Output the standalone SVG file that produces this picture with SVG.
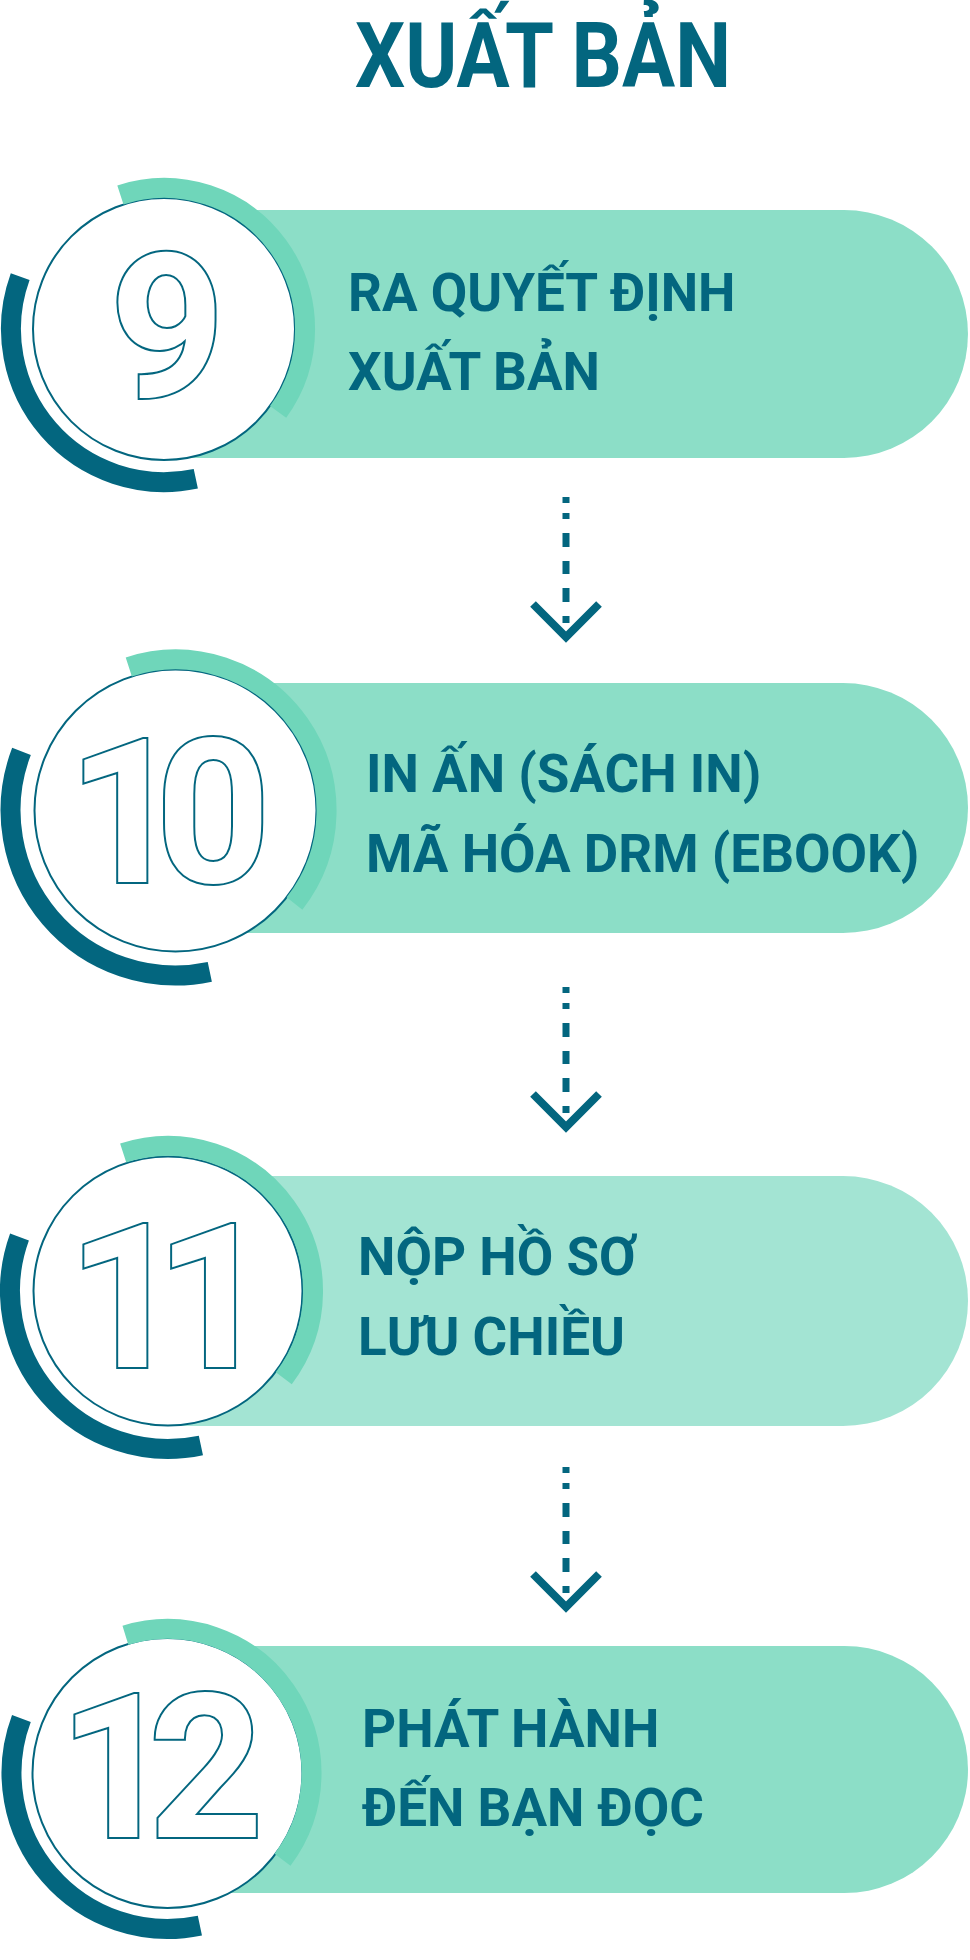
<svg xmlns="http://www.w3.org/2000/svg" width="970" height="1960" viewBox="0 0 970 1960">
<style>
.pill{fill:#8cdec7}
.pill-l{fill:#a3e4d3}
.disc{fill:#ffffff;stroke:#03667f;stroke-width:2}
.arc-l{fill:none;stroke:#6fd6ba;stroke-width:20}
.arc-d{fill:none;stroke:#03667f;stroke-width:20}
.num{font-family:Roboto,"Liberation Sans",sans-serif;font-weight:700;font-size:200px;fill:#ffffff;stroke:#03667f;stroke-width:4;paint-order:stroke;stroke-linejoin:miter}
.lbl{font-family:Roboto,"Liberation Sans",sans-serif;font-weight:700;font-size:53px;fill:#03667f}
.title{font-family:Roboto,"Liberation Sans",sans-serif;font-weight:700;font-size:91px;fill:#03667f}
.dash{fill:none;stroke:#03667f;stroke-width:7}
.chev{fill:none;stroke:#03667f;stroke-width:8;stroke-linejoin:miter}
</style>
<rect width="970" height="1960" fill="#ffffff"/>
<text class="title" x="355" y="87" textLength="376" lengthAdjust="spacingAndGlyphs">XUẤT BẢN</text>

<g id="node9">
<path class="pill" d="M150 210 H844 A124 124 0 0 1 844 458 H150 Z"/>
<circle class="disc" cx="164" cy="329" r="131"/>
<path class="arc-l" d="M120.4 194.9 A141 141 0 0 1 278.1 411.9"/>
<path class="arc-d" d="M195.8 478.7 A153 153 0 0 1 20.2 276.7"/>
<text class="num" x="110" y="397">9</text>
<text class="lbl" x="348" y="311">RA QUYẾT ĐỊNH</text>
<text class="lbl" x="348" y="390">XUẤT BẢN</text>
</g>

<g id="node10">
<path class="pill" d="M160 683 H843 A125 125 0 0 1 843 933 H160 Z"/>
<circle class="disc" cx="175.5" cy="810.5" r="141"/>
<path class="arc-l" d="M128.8 666.9 A151 151 0 0 1 294.5 903.5"/>
<path class="arc-d" d="M209.8 971.9 A165 165 0 0 1 21.5 751.4"/>
<text class="num" x="68" y="882" style="letter-spacing:-27px">10</text>
<text class="lbl" x="366" y="792">IN ẤN (SÁCH IN)</text>
<text class="lbl" x="366" y="872">MÃ HÓA DRM (EBOOK)</text>
</g>

<g id="node11">
<path class="pill-l" d="M150 1176 H843 A125 125 0 0 1 843 1426 H150 Z"/>
<circle class="disc" cx="168" cy="1291" r="134.5"/>
<path class="arc-l" d="M123.2 1153.1 A145 145 0 0 1 283.8 1378.3"/>
<path class="arc-d" d="M200.9 1445.5 A158 158 0 0 1 19.5 1237"/>
<text class="num" x="68" y="1367" style="letter-spacing:-27px">11</text>
<text class="lbl" x="358" y="1275">NỘP HỒ SƠ</text>
<text class="lbl" x="358" y="1355">LƯU CHIỀU</text>
</g>

<g id="node12">
<path class="pill" d="M150 1646 H844.5 A123.5 123.5 0 0 1 844.5 1893 H150 Z"/>
<circle class="disc" cx="167.5" cy="1773" r="135"/>
<path class="arc-l" d="M125.4 1635.3 A144 144 0 0 1 282.5 1859.7"/>
<path class="arc-d" d="M199.9 1925.6 A156 156 0 0 1 21.4 1718.4"/>
<text class="num" x="59" y="1837" style="letter-spacing:-25px">12</text>
<text class="lbl" x="362" y="1747">PHÁT HÀNH</text>
<text class="lbl" x="362" y="1826">ĐẾN BẠN ĐỌC</text>
</g>

<g id="connectors">
<path class="dash" d="M566 497 V503 M566 513 V519 M566 533 V547 M566 561 V574 M566 588 V602 M566 616 V623"/>
<polyline class="chev" points="533,604 566,637 599,604"/>
<path class="dash" d="M566 987 V993 M566 1003 V1009 M566 1023 V1037 M566 1051 V1064 M566 1078 V1092 M566 1106 V1113"/>
<polyline class="chev" points="533,1094 566,1127 599,1094"/>
<path class="dash" d="M566 1467 V1473 M566 1483 V1489 M566 1503 V1517 M566 1531 V1544 M566 1558 V1572 M566 1586 V1593"/>
<polyline class="chev" points="533,1574 566,1607 599,1574"/>
</g>
</svg>
